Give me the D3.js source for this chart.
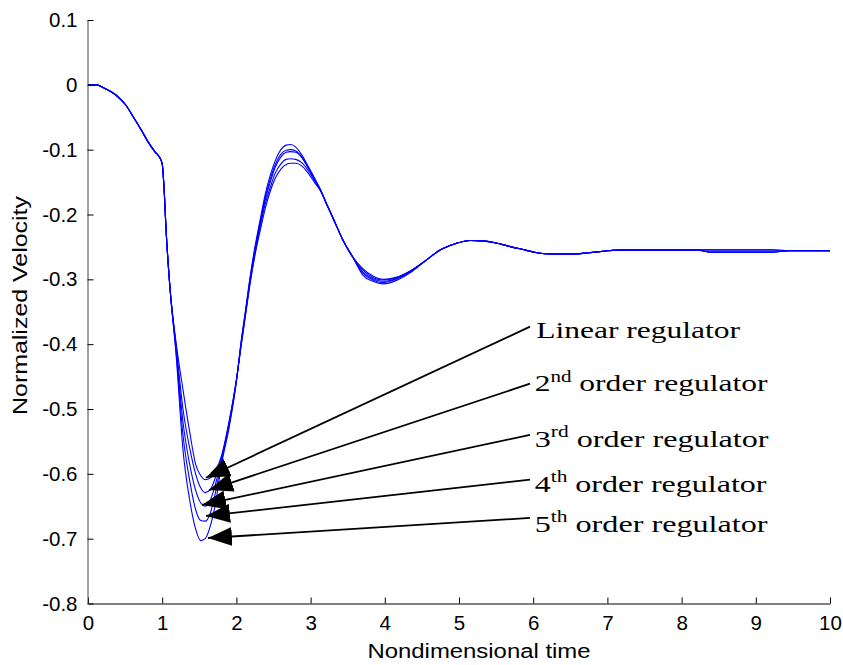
<!DOCTYPE html>
<html><head><meta charset="utf-8">
<script src="https://cdn.jsdelivr.net/npm/d3@7"></script>
<style>body{margin:0;background:#fff}svg{display:block}</style>
</head><body>
<svg id="c" width="843" height="665"></svg>
<script>
// ---- data ----
const time = [0,0.12,0.2,0.3,0.4,0.5,0.63,0.72,0.81,0.9,0.97,1.0,1.03,1.05,1.1,1.19,1.28,1.37,1.45,1.52,1.58,1.65,1.72,1.8,1.9,2.0,2.07,2.12,2.18,2.25,2.32,2.39,2.46,2.52,2.6,2.67,2.73,2.8,2.88,2.96,3.05,3.13,3.22,3.3,3.43,3.57,3.7,3.84,3.98,4.15,4.34,4.54,4.74,4.95,5.15,5.35,5.5,5.69,5.9,6.05,6.25,6.5,6.75,7.0,7.26,7.6,8.2,8.38,8.8,9.2,9.46,10];
const common = [0,0,-0.004,-0.010,-0.018,-0.030,-0.053,-0.070,-0.088,-0.103,-0.113,-0.122,-0.17,-0.219,-0.306];
const tail = [-0.185,-0.205,-0.238,-0.266];
const late = [-0.272,-0.255,-0.245,-0.240,-0.241,-0.244,-0.2495,-0.255,-0.259,-0.261,-0.261,-0.259,-0.256,-0.2546,-0.2545,-0.2545];
const linearReg = [...common,
  -0.400,-0.470,-0.535,-0.585,-0.603,-0.609,-0.606,-0.595,-0.572,-0.520,-0.455,
  -0.398,-0.358,-0.310,-0.263,-0.225,-0.190,-0.163,-0.145,-0.130,-0.123,-0.121,-0.121,-0.125,-0.135,-0.150,-0.163,
  ...tail,-0.283,-0.295,-0.300,-0.297,-0.287,...late,-0.2545,-0.2545,-0.2545,-0.256,-0.256];
const order2 = [...common,
  -0.405,-0.500,-0.560,-0.600,-0.622,-0.629,-0.624,-0.605,-0.575,-0.522,-0.455,
  -0.396,-0.356,-0.308,-0.260,-0.220,-0.183,-0.157,-0.137,-0.122,-0.115,-0.114,-0.115,-0.120,-0.131,-0.147,-0.162,
  ...tail,-0.285,-0.297,-0.301,-0.298,-0.288,...late,-0.2545,-0.2545,-0.2545,-0.256,-0.256];
const order3 = [...common,
  -0.410,-0.520,-0.585,-0.625,-0.645,-0.650,-0.640,-0.615,-0.577,-0.524,-0.456,
  -0.394,-0.354,-0.305,-0.256,-0.215,-0.177,-0.149,-0.128,-0.111,-0.104,-0.103,-0.104,-0.112,-0.127,-0.145,-0.162,
  ...tail,-0.288,-0.299,-0.303,-0.299,-0.288,...late,-0.258,-0.258,-0.258,-0.256,-0.256];
const order4 = [...common,
  -0.415,-0.540,-0.610,-0.655,-0.672,-0.673,-0.660,-0.628,-0.580,-0.526,-0.457,
  -0.392,-0.352,-0.302,-0.253,-0.212,-0.173,-0.144,-0.124,-0.107,-0.101,-0.100,-0.102,-0.111,-0.126,-0.144,-0.161,
  ...tail,-0.290,-0.301,-0.305,-0.300,-0.289,...late,-0.258,-0.258,-0.258,-0.256,-0.256];
const order5 = [...common,
  -0.420,-0.563,-0.640,-0.685,-0.703,-0.700,-0.680,-0.645,-0.585,-0.530,-0.458,
  -0.390,-0.350,-0.300,-0.250,-0.208,-0.168,-0.138,-0.118,-0.100,-0.093,-0.092,-0.096,-0.108,-0.124,-0.143,-0.161,
  ...tail,-0.293,-0.303,-0.307,-0.302,-0.290,...late,-0.258,-0.258,-0.258,-0.256,-0.256];
const seriesList = [linearReg, order2, order3, order4, order5];

const xTicks = [0,1,2,3,4,5,6,7,8,9,10];
const yTicks = [0.1,0,-0.1,-0.2,-0.3,-0.4,-0.5,-0.6,-0.7,-0.8];
const xTitle = "Nondimensional time";
const yTitle = "Normalized Velocity";

// annotations: label parts, tip (t,v), line start (t,v), text anchor (t,v)
const annNum = ["", "2", "3", "4", "5"];
const annSup = ["", "nd", "rd", "th", "th"];
const annRest = ["Linear regulator", " order regulator", " order regulator", " order regulator", " order regulator"];
const annTip = [[1.590,-0.606],[1.631,-0.625],[1.536,-0.648],[1.590,-0.665],[1.617,-0.699]];
const annStart = [[5.957,-0.373],[5.957,-0.461],[5.957,-0.540],[5.957,-0.609],[5.957,-0.668]];
const annText = [[6.04,-0.391],[6.02,-0.473],[6.02,-0.558],[6.02,-0.628],[6.02,-0.689]];

// ---- drawing ----
const svg = d3.select("#c");
const x = d3.scaleLinear().domain([0,10]).range([88,830]);
const y = d3.scaleLinear().domain([-0.8,0.1]).range([603.5,20]);
const sans = "'Liberation Sans', Arial, sans-serif";
const serif = "'Liberation Serif','Times New Roman',serif";

const line = d3.line().x((d,i)=>x(time[i])).y(d=>y(d)).curve(d3.curveMonotoneX);
svg.append("g").selectAll("path").data(seriesList).join("path")
  .attr("d", line).attr("fill","none").attr("stroke","#0000ff").attr("stroke-width",1.1);

// axes
const gx = svg.append("g").attr("transform","translate(0,603.5)")
  .call(d3.axisBottom(x).tickValues(xTicks).tickSizeInner(-6).tickSizeOuter(0).tickPadding(12).tickFormat(d3.format("d")));
const gy = svg.append("g").attr("transform","translate(87.5,0)")
  .call(d3.axisLeft(y).tickValues(yTicks).tickSizeInner(-6).tickSizeOuter(0).tickPadding(10)
    .tickFormat(d=> d===0 ? "0" : d3.format(".1f")(d).replace("\u2212","-")));
[gx,gy].forEach(g=>{
  g.select(".domain").attr("stroke","#000").attr("stroke-width",1);
  g.selectAll(".tick line").attr("stroke","#000");
  g.selectAll("text").attr("font-family",sans).attr("font-size",20.5).attr("fill","#000");
});
gy.select(".domain").attr("stroke","#444");
gx.selectAll("text").attr("dy","0.71em");

svg.append("text").attr("x",(88+830)/2 + 20).attr("y",658).attr("text-anchor","middle")
  .attr("font-family",sans).attr("font-size",20).attr("textLength",223).attr("lengthAdjust","spacingAndGlyphs").text(xTitle);
svg.append("text").attr("transform",`translate(27,${(20+603)/2 - 6}) rotate(-90)`).attr("text-anchor","middle")
  .attr("font-family",sans).attr("font-size",20).attr("textLength",219).attr("lengthAdjust","spacingAndGlyphs").text(yTitle);

// arrows
const defs = svg.append("defs");
defs.append("marker").attr("id","ah").attr("viewBox","0 0 10 10").attr("refX",10).attr("refY",5)
  .attr("markerWidth",24).attr("markerHeight",19).attr("markerUnits","userSpaceOnUse")
  .attr("preserveAspectRatio","none").attr("orient","auto")
  .append("path").attr("d","M0,0L10,5L0,10Z").attr("fill","#000");
const targetW = [204, 233, 234, 232, 233];
const ann = svg.append("g");
annTip.forEach((tp,i)=>{
  ann.append("line").attr("x1",x(annStart[i][0])).attr("y1",y(annStart[i][1]))
    .attr("x2",x(tp[0])).attr("y2",y(tp[1])).attr("stroke","#000").attr("stroke-width",1.8)
    .attr("marker-end","url(#ah)");
  const g = ann.append("g").attr("transform",`translate(${x(annText[i][0])},${y(annText[i][1])})`);
  const t = g.append("text").attr("x",0).attr("y",0)
    .attr("font-family",serif).attr("font-size",24).attr("fill","#000");
  if (annNum[i]) {
    t.append("tspan").text(annNum[i]);
    t.append("tspan").attr("font-size",16).attr("dy",-10).text(annSup[i]);
    t.append("tspan").attr("dy",10).text(annRest[i]);
  } else {
    t.text(annRest[i]);
  }
  const w = t.node().getComputedTextLength ? t.node().getBBox().width : targetW[i];
  t.attr("transform",`scale(${targetW[i]/w},1)`);
});
</script>
</body></html>
